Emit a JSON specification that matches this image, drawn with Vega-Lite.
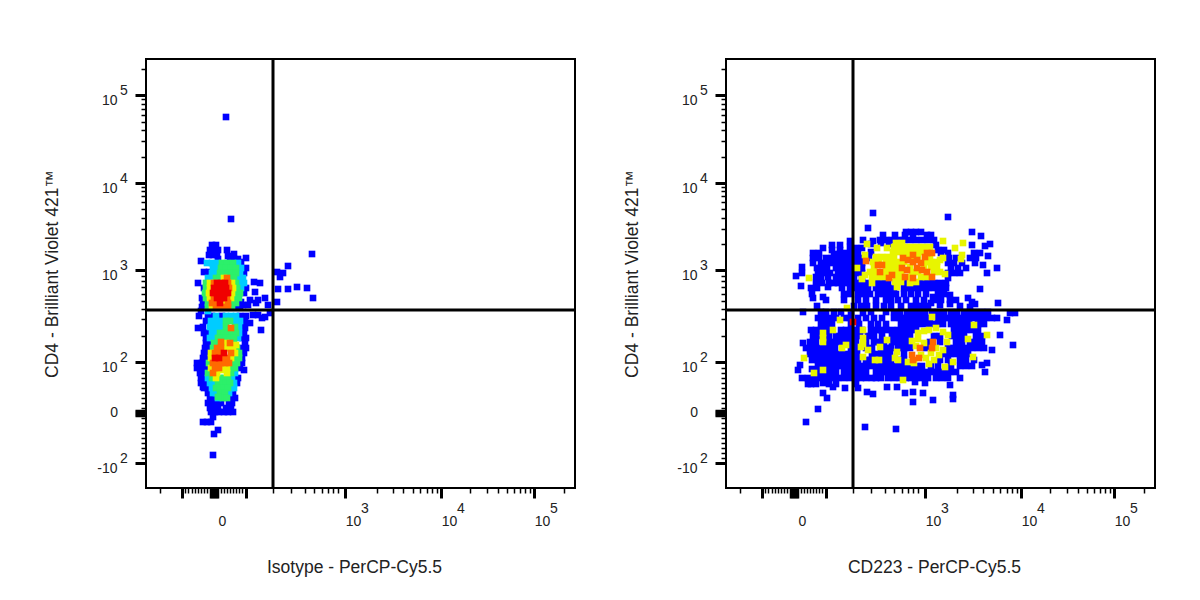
{
"$schema":"https://vega.github.io/schema/vega-lite/v6.json",
"description":"Two flow cytometry dot plots of CD4 against isotype and CD223, in display channel units.",
"padding":{"left":42,"top":56,"right":0,"bottom":0},
"spacing":44,
"background":"white",
"config":{"view":{"stroke":"black","strokeWidth":2},"axis":{"grid":false,"domain":false,"tickColor":"black","labelColor":"#222","titleColor":"#222","labelFont":"Liberation Sans","titleFont":"Liberation Sans","labelFontSize":14,"titleFontSize":17.5,"titleFontWeight":"normal"},"text":{"font":"Liberation Sans","fontSize":14,"color":"#222"}},
"datasets":{
"isotype":[
{"x":80,"y":371,"d":1},{"x":85,"y":269,"d":1},{"x":166,"y":234,"d":1},{"x":142,"y":222,"d":1},{"x":131,"y":216,"d":1},{"x":137,"y":215,"d":1},{"x":134,"y":211,"d":1},{"x":132,"y":199,"d":1},{"x":142,"y":199,"d":1},{"x":151,"y":201,"d":1},{"x":161,"y":200,"d":1},{"x":167,"y":190,"d":1},{"x":131,"y":186,"d":1},{"x":108,"y":206,"d":1},{"x":114,"y":205,"d":1},{"x":109,"y":196,"d":1},{"x":112,"y":188,"d":1},{"x":119,"y":190,"d":1},{"x":104,"y":188,"d":1},{"x":110,"y":185,"d":1},{"x":97,"y":183,"d":1},{"x":102,"y":183,"d":1},{"x":122,"y":183,"d":1},{"x":124,"y":175,"d":1},{"x":119,"y":171,"d":1},{"x":112,"y":173,"d":1},{"x":116,"y":170,"d":1},{"x":107,"y":173,"d":1},{"x":104,"y":165,"d":1},{"x":99,"y":160,"d":1},{"x":115,"y":158,"d":1},{"x":97,"y":168,"d":1},
{"x":66,"y":243,"d":1},{"x":70,"y":243,"d":1},{"x":64,"y":238,"d":1},{"x":68,"y":238,"d":1},{"x":72,"y":238,"d":1},{"x":81,"y":238,"d":1},{"x":88,"y":234,"d":1},{"x":63,"y":233,"d":1},{"x":67,"y":233,"d":1},{"x":71,"y":233,"d":1},{"x":82,"y":232,"d":1},{"x":72,"y":229,"d":1},{"x":84,"y":229,"d":1},{"x":88,"y":229,"d":1},{"x":92,"y":229,"d":1},{"x":55,"y":227,"d":1},{"x":100,"y":230,"d":1},{"x":95,"y":226,"d":1},{"x":58,"y":216,"d":1},{"x":63,"y":216,"d":1},{"x":100,"y":220,"d":1},{"x":98,"y":215,"d":1},{"x":52,"y":205,"d":1},{"x":58,"y":200,"d":1},{"x":98,"y":195,"d":1},{"x":100,"y":200,"d":1},{"x":56,"y":190,"d":1},{"x":57,"y":185,"d":1},{"x":95,"y":186,"d":1},{"x":56,"y":181,"d":1},{"x":90,"y":181,"d":1},{"x":94,"y":181,"d":1},{"x":55,"y":177,"d":1},
{"x":53,"y":172,"d":1},{"x":62,"y":172,"d":1},{"x":66,"y":172,"d":1},{"x":76,"y":172,"d":1},{"x":94,"y":172,"d":1},{"x":100,"y":172,"d":1},{"x":60,"y":167,"d":1},{"x":99,"y":166,"d":1},{"x":52,"y":160,"d":1},{"x":57,"y":161,"d":1},{"x":98,"y":161,"d":1},{"x":58,"y":155,"d":1},{"x":62,"y":155,"d":1},{"x":98,"y":155,"d":1},{"x":60,"y":150,"d":1},{"x":96,"y":150,"d":1},{"x":100,"y":150,"d":1},{"x":60,"y":145,"d":1},{"x":64,"y":145,"d":1},{"x":99,"y":145,"d":1},{"x":59,"y":140,"d":1},{"x":63,"y":140,"d":1},{"x":96,"y":140,"d":1},{"x":100,"y":140,"d":1},{"x":58,"y":135,"d":1},{"x":62,"y":135,"d":1},{"x":98,"y":135,"d":1},{"x":57,"y":130,"d":1},{"x":61,"y":130,"d":1},{"x":96,"y":130,"d":1},{"x":51,"y":125,"d":1},{"x":56,"y":125,"d":1},{"x":60,"y":125,"d":1},{"x":96,"y":125,"d":1},{"x":51,"y":120,"d":1},{"x":56,"y":120,"d":1},{"x":60,"y":120,"d":1},{"x":94,"y":120,"d":1},{"x":54,"y":115,"d":1},{"x":58,"y":115,"d":1},{"x":98,"y":118,"d":1},{"x":55,"y":110,"d":1},{"x":59,"y":110,"d":1},{"x":92,"y":110,"d":1},{"x":55,"y":105,"d":1},{"x":60,"y":105,"d":1},{"x":91,"y":105,"d":1},{"x":58,"y":100,"d":1},{"x":62,"y":100,"d":1},{"x":57,"y":101,"d":1},{"x":62,"y":95,"d":1},{"x":87,"y":95,"d":1},{"x":64,"y":90,"d":1},{"x":68,"y":90,"d":1},{"x":85,"y":90,"d":1},{"x":89,"y":90,"d":1},{"x":62,"y":85,"d":1},{"x":67,"y":85,"d":1},{"x":71,"y":85,"d":1},{"x":75,"y":85,"d":1},{"x":83,"y":85,"d":1},{"x":86,"y":85,"d":1},{"x":64,"y":80,"d":1},{"x":68,"y":80,"d":1},{"x":72,"y":80,"d":1},{"x":80,"y":80,"d":1},{"x":85,"y":80,"d":1},{"x":65,"y":76,"d":1},{"x":69,"y":76,"d":1},{"x":73,"y":76,"d":1},{"x":78,"y":76,"d":1},{"x":82,"y":76,"d":1},{"x":87,"y":76,"d":1},{"x":67,"y":71,"d":1},{"x":57,"y":66,"d":1},{"x":61,"y":66,"d":1},{"x":65,"y":66,"d":1},{"x":72,"y":58,"d":1},{"x":68,"y":54,"d":1},{"x":67,"y":33,"d":1},
{"x":61,"y":225,"d":2},{"x":66,"y":225,"d":2},{"x":71,"y":225,"d":2},{"x":92,"y":225,"d":2},{"x":67,"y":220,"d":2},{"x":71,"y":220,"d":2},{"x":95,"y":220,"d":2},{"x":66,"y":215,"d":2},{"x":70,"y":215,"d":2},{"x":94,"y":215,"d":2},{"x":62,"y":210,"d":2},{"x":66,"y":210,"d":2},{"x":92,"y":210,"d":2},{"x":97,"y":210,"d":2},{"x":94,"y":205,"d":2},{"x":98,"y":205,"d":2},{"x":95,"y":200,"d":2},{"x":62,"y":177,"d":2},{"x":70,"y":172,"d":2},{"x":80,"y":172,"d":2},{"x":85,"y":172,"d":2},{"x":90,"y":172,"d":2},{"x":65,"y":167,"d":2},{"x":70,"y":167,"d":2},{"x":75,"y":167,"d":2},{"x":90,"y":167,"d":2},{"x":94,"y":167,"d":2},{"x":64,"y":161,"d":2},{"x":68,"y":161,"d":2},{"x":72,"y":161,"d":2},{"x":76,"y":161,"d":2},{"x":93,"y":161,"d":2},{"x":66,"y":155,"d":2},{"x":70,"y":155,"d":2},{"x":93,"y":155,"d":2},{"x":64,"y":150,"d":2},{"x":68,"y":150,"d":2},{"x":92,"y":150,"d":2},{"x":89,"y":115,"d":2},{"x":62,"y":110,"d":2},{"x":86,"y":110,"d":2},{"x":64,"y":105,"d":2},{"x":68,"y":105,"d":2},{"x":88,"y":105,"d":2},{"x":66,"y":100,"d":2},{"x":85,"y":100,"d":2},{"x":88,"y":100,"d":2},{"x":67,"y":95,"d":2},{"x":70,"y":95,"d":2},{"x":83,"y":95,"d":2},{"x":72,"y":90,"d":2},
{"x":76,"y":225,"d":3},{"x":81,"y":225,"d":3},{"x":87,"y":225,"d":3},{"x":75,"y":220,"d":3},{"x":80,"y":220,"d":3},{"x":85,"y":220,"d":3},{"x":90,"y":220,"d":3},{"x":74,"y":215,"d":3},{"x":78,"y":215,"d":3},{"x":82,"y":215,"d":3},{"x":86,"y":215,"d":3},{"x":90,"y":215,"d":3},{"x":70,"y":210,"d":3},{"x":74,"y":210,"d":3},{"x":84,"y":210,"d":3},{"x":88,"y":210,"d":3},{"x":60,"y":205,"d":3},{"x":90,"y":205,"d":3},{"x":60,"y":200,"d":3},{"x":91,"y":200,"d":3},{"x":59,"y":195,"d":3},{"x":90,"y":195,"d":3},{"x":94,"y":195,"d":3},{"x":60,"y":190,"d":3},{"x":89,"y":190,"d":3},{"x":93,"y":190,"d":3},{"x":62,"y":185,"d":3},{"x":86,"y":185,"d":3},{"x":90,"y":185,"d":3},{"x":62,"y":181,"d":3},{"x":86,"y":181,"d":3},{"x":84,"y":167,"d":3},{"x":80,"y":167,"d":3},{"x":80,"y":161,"d":3},{"x":89,"y":161,"d":3},{"x":74,"y":155,"d":3},{"x":78,"y":155,"d":3},{"x":82,"y":155,"d":3},{"x":86,"y":155,"d":3},{"x":90,"y":155,"d":3},{"x":72,"y":150,"d":3},{"x":76,"y":150,"d":3},{"x":80,"y":150,"d":3},{"x":84,"y":150,"d":3},{"x":88,"y":150,"d":3},{"x":68,"y":145,"d":3},{"x":72,"y":145,"d":3},{"x":88,"y":145,"d":3},{"x":67,"y":140,"d":3},{"x":91,"y":140,"d":3},{"x":93,"y":135,"d":3},{"x":89,"y":130,"d":3},{"x":93,"y":130,"d":3},{"x":63,"y":125,"d":3},{"x":87,"y":125,"d":3},{"x":91,"y":125,"d":3},{"x":85,"y":120,"d":3},{"x":89,"y":120,"d":3},{"x":62,"y":115,"d":3},{"x":85,"y":115,"d":3},{"x":66,"y":110,"d":3},{"x":74,"y":110,"d":3},{"x":78,"y":110,"d":3},{"x":82,"y":110,"d":3},{"x":72,"y":105,"d":3},{"x":76,"y":105,"d":3},{"x":80,"y":105,"d":3},{"x":84,"y":105,"d":3},{"x":70,"y":100,"d":3},{"x":74,"y":100,"d":3},{"x":78,"y":100,"d":3},{"x":82,"y":100,"d":3},{"x":74,"y":95,"d":3},{"x":79,"y":95,"d":3},{"x":77,"y":90,"d":3},{"x":81,"y":90,"d":3},{"x":72,"y":91,"d":3},
{"x":78,"y":210,"d":4},{"x":64,"y":205,"d":4},{"x":86,"y":205,"d":4},{"x":64,"y":200,"d":4},{"x":87,"y":200,"d":4},{"x":63,"y":195,"d":4},{"x":86,"y":195,"d":4},{"x":64,"y":190,"d":4},{"x":85,"y":190,"d":4},{"x":78,"y":185,"d":4},{"x":66,"y":181,"d":4},{"x":80,"y":145,"d":4},{"x":90,"y":143,"d":4},{"x":79,"y":140,"d":4},{"x":83,"y":140,"d":4},{"x":87,"y":140,"d":4},{"x":65,"y":135,"d":4},{"x":89,"y":135,"d":4},{"x":65,"y":130,"d":4},{"x":85,"y":130,"d":4},{"x":65,"y":120,"d":4},{"x":77,"y":120,"d":4},{"x":81,"y":120,"d":4},{"x":71,"y":115,"d":4},{"x":75,"y":118,"d":4},{"x":81,"y":115,"d":4},{"x":70,"y":110,"d":4},
{"x":81,"y":210,"d":5},{"x":68,"y":205,"d":5},{"x":82,"y":205,"d":5},{"x":83,"y":200,"d":5},{"x":68,"y":190,"d":5},{"x":81,"y":190,"d":5},{"x":66,"y":185,"d":5},{"x":70,"y":185,"d":5},{"x":82,"y":185,"d":5},{"x":70,"y":181,"d":5},{"x":74,"y":181,"d":5},{"x":79,"y":181,"d":5},{"x":82,"y":181,"d":5},{"x":85,"y":160,"d":5},{"x":75,"y":146,"d":5},{"x":84,"y":145,"d":5},{"x":71,"y":140,"d":5},{"x":75,"y":140,"d":5},{"x":69,"y":135,"d":5},{"x":73,"y":135,"d":5},{"x":85,"y":135,"d":5},{"x":77,"y":130,"d":5},{"x":81,"y":130,"d":5},{"x":67,"y":125,"d":5},{"x":71,"y":125,"d":5},{"x":75,"y":125,"d":5},{"x":79,"y":125,"d":5},{"x":83,"y":125,"d":5},{"x":69,"y":120,"d":5},{"x":73,"y":120,"d":5},{"x":67,"y":115,"d":5},
{"x":71,"y":205,"d":6},{"x":75,"y":205,"d":6},{"x":79,"y":205,"d":6},{"x":68,"y":200,"d":6},{"x":72,"y":200,"d":6},{"x":76,"y":200,"d":6},{"x":80,"y":200,"d":6},{"x":67,"y":195,"d":6},{"x":71,"y":195,"d":6},{"x":75,"y":195,"d":6},{"x":79,"y":195,"d":6},{"x":82,"y":195,"d":6},{"x":71,"y":190,"d":6},{"x":75,"y":190,"d":6},{"x":78,"y":190,"d":6},{"x":74,"y":185,"d":6},{"x":78,"y":135,"d":6},{"x":69,"y":130,"d":6},{"x":73,"y":130,"d":6}
],
"cd223":[
{"x":147,"y":275,"d":1},{"x":222,"y":271,"d":1},{"x":142,"y":260,"d":1},{"x":180,"y":256,"d":1},{"x":185,"y":256,"d":1},{"x":190,"y":256,"d":1},{"x":195,"y":256,"d":1},{"x":246,"y":256,"d":1},{"x":157,"y":253,"d":1},{"x":169,"y":253,"d":1},{"x":179,"y":253,"d":1},{"x":187,"y":253,"d":1},{"x":201,"y":253,"d":1},{"x":205,"y":253,"d":1},{"x":255,"y":252,"d":1},{"x":124,"y":247,"d":1},{"x":137,"y":248,"d":1},{"x":147,"y":247,"d":1},{"x":154,"y":248,"d":1},{"x":160,"y":248,"d":1},{"x":166,"y":248,"d":1},{"x":172,"y":248,"d":1},{"x":178,"y":248,"d":1},{"x":184,"y":248,"d":1},{"x":190,"y":248,"d":1},{"x":196,"y":248,"d":1},{"x":202,"y":248,"d":1},{"x":208,"y":248,"d":1},{"x":106,"y":243,"d":1},{"x":114,"y":243,"d":1},{"x":124,"y":241,"d":1},{"x":246,"y":243,"d":1},{"x":264,"y":244,"d":1},{"x":259,"y":242,"d":1},
{"x":97,"y":240,"d":1},{"x":106,"y":238,"d":1},{"x":114,"y":238,"d":1},{"x":130,"y":240,"d":1},{"x":136,"y":240,"d":1},{"x":145,"y":244,"d":1},{"x":155,"y":245,"d":1},{"x":163,"y":244,"d":1},{"x":210,"y":243,"d":1},{"x":212,"y":238,"d":1},{"x":218,"y":238,"d":1},{"x":87,"y":235,"d":1},{"x":93,"y":235,"d":1},{"x":108,"y":234,"d":1},{"x":114,"y":234,"d":1},{"x":120,"y":235,"d":1},{"x":126,"y":235,"d":1},{"x":132,"y":235,"d":1},{"x":145,"y":236,"d":1},{"x":215,"y":235,"d":1},{"x":222,"y":235,"d":1},{"x":248,"y":235,"d":1},{"x":254,"y":235,"d":1},{"x":262,"y":232,"d":1},{"x":87,"y":230,"d":1},{"x":93,"y":230,"d":1},{"x":100,"y":230,"d":1},{"x":106,"y":230,"d":1},{"x":112,"y":230,"d":1},{"x":118,"y":230,"d":1},{"x":124,"y":230,"d":1},{"x":130,"y":230,"d":1},{"x":136,"y":230,"d":1},{"x":143,"y":230,"d":1},{"x":223,"y":230,"d":1},{"x":230,"y":230,"d":1},{"x":244,"y":230,"d":1},{"x":250,"y":230,"d":1},{"x":87,"y":225,"d":1},{"x":95,"y":225,"d":1},{"x":100,"y":225,"d":1},{"x":106,"y":225,"d":1},{"x":112,"y":225,"d":1},{"x":118,"y":225,"d":1},{"x":124,"y":225,"d":1},{"x":130,"y":225,"d":1},{"x":136,"y":225,"d":1},{"x":222,"y":225,"d":1},{"x":228,"y":225,"d":1},{"x":236,"y":225,"d":1},{"x":249,"y":225,"d":1},{"x":76,"y":221,"d":1},{"x":91,"y":220,"d":1},{"x":95,"y":220,"d":1},{"x":101,"y":220,"d":1},{"x":110,"y":220,"d":1},{"x":116,"y":220,"d":1},{"x":122,"y":220,"d":1},{"x":128,"y":220,"d":1},{"x":136,"y":220,"d":1},{"x":225,"y":220,"d":1},{"x":232,"y":220,"d":1},{"x":240,"y":220,"d":1},{"x":257,"y":223,"d":1},{"x":76,"y":215,"d":1},{"x":92,"y":215,"d":1},{"x":98,"y":215,"d":1},{"x":104,"y":215,"d":1},{"x":112,"y":215,"d":1},{"x":118,"y":215,"d":1},{"x":124,"y":215,"d":1},{"x":130,"y":215,"d":1},{"x":136,"y":215,"d":1},{"x":222,"y":215,"d":1},{"x":228,"y":215,"d":1},{"x":234,"y":215,"d":1},{"x":271,"y":220,"d":1},{"x":70,"y":212,"d":1},{"x":90,"y":211,"d":1},{"x":95,"y":211,"d":1},{"x":102,"y":211,"d":1},{"x":110,"y":211,"d":1},{"x":116,"y":211,"d":1},{"x":122,"y":211,"d":1},{"x":128,"y":211,"d":1},{"x":136,"y":210,"d":1},{"x":222,"y":210,"d":1},{"x":261,"y":215,"d":1},{"x":75,"y":202,"d":1},{"x":90,"y":205,"d":1},{"x":96,"y":205,"d":1},{"x":103,"y":205,"d":1},{"x":108,"y":205,"d":1},{"x":112,"y":205,"d":1},{"x":118,"y":205,"d":1},{"x":124,"y":205,"d":1},{"x":130,"y":205,"d":1},{"x":136,"y":205,"d":1},{"x":142,"y":205,"d":1},{"x":150,"y":205,"d":1},{"x":156,"y":205,"d":1},{"x":162,"y":205,"d":1},{"x":180,"y":205,"d":1},{"x":196,"y":205,"d":1},{"x":202,"y":205,"d":1},{"x":208,"y":205,"d":1},{"x":214,"y":205,"d":1},{"x":220,"y":205,"d":1},
{"x":85,"y":200,"d":1},{"x":91,"y":200,"d":1},{"x":102,"y":201,"d":1},{"x":116,"y":200,"d":1},{"x":124,"y":200,"d":1},{"x":130,"y":200,"d":1},{"x":136,"y":200,"d":1},{"x":142,"y":200,"d":1},{"x":150,"y":200,"d":1},{"x":156,"y":200,"d":1},{"x":162,"y":200,"d":1},{"x":168,"y":200,"d":1},{"x":178,"y":200,"d":1},{"x":184,"y":200,"d":1},{"x":190,"y":200,"d":1},{"x":196,"y":200,"d":1},{"x":202,"y":200,"d":1},{"x":208,"y":200,"d":1},{"x":214,"y":200,"d":1},{"x":220,"y":200,"d":1},{"x":254,"y":199,"d":1},{"x":86,"y":194,"d":1},{"x":87,"y":190,"d":1},{"x":97,"y":191,"d":1},{"x":118,"y":194,"d":1},{"x":124,"y":194,"d":1},{"x":132,"y":194,"d":1},{"x":138,"y":194,"d":1},{"x":144,"y":194,"d":1},{"x":152,"y":194,"d":1},{"x":158,"y":194,"d":1},{"x":164,"y":194,"d":1},{"x":170,"y":194,"d":1},{"x":178,"y":194,"d":1},{"x":185,"y":194,"d":1},{"x":192,"y":194,"d":1},{"x":200,"y":194,"d":1},{"x":207,"y":191,"d":1},{"x":212,"y":194,"d":1},{"x":218,"y":194,"d":1},{"x":224,"y":193,"d":1},{"x":100,"y":188,"d":1},{"x":91,"y":182,"d":1},{"x":118,"y":188,"d":1},{"x":132,"y":188,"d":1},{"x":140,"y":188,"d":1},{"x":150,"y":188,"d":1},{"x":160,"y":188,"d":1},{"x":165,"y":188,"d":1},{"x":172,"y":188,"d":1},{"x":180,"y":188,"d":1},{"x":190,"y":188,"d":1},{"x":198,"y":188,"d":1},{"x":205,"y":185,"d":1},{"x":210,"y":188,"d":1},{"x":215,"y":188,"d":1},{"x":224,"y":188,"d":1},{"x":230,"y":188,"d":1},{"x":242,"y":190,"d":1},{"x":246,"y":186,"d":1},{"x":272,"y":185,"d":1},{"x":128,"y":182,"d":1},{"x":135,"y":182,"d":1},{"x":141,"y":182,"d":1},{"x":150,"y":182,"d":1},{"x":158,"y":182,"d":1},{"x":165,"y":182,"d":1},{"x":175,"y":182,"d":1},{"x":185,"y":182,"d":1},{"x":190,"y":182,"d":1},{"x":196,"y":182,"d":1},{"x":202,"y":182,"d":1},{"x":214,"y":183,"d":1},{"x":224,"y":184,"d":1},{"x":234,"y":182,"d":1},{"x":249,"y":184,"d":1},{"x":244,"y":181,"d":1},
{"x":77,"y":176,"d":1},{"x":95,"y":176,"d":1},{"x":100,"y":176,"d":1},{"x":108,"y":176,"d":1},{"x":115,"y":176,"d":1},{"x":125,"y":176,"d":1},{"x":137,"y":175,"d":1},{"x":145,"y":176,"d":1},{"x":160,"y":176,"d":1},{"x":168,"y":176,"d":1},{"x":174,"y":176,"d":1},{"x":181,"y":174,"d":1},{"x":187,"y":176,"d":1},{"x":193,"y":176,"d":1},{"x":199,"y":176,"d":1},{"x":206,"y":176,"d":1},{"x":212,"y":176,"d":1},{"x":218,"y":176,"d":1},{"x":225,"y":176,"d":1},{"x":231,"y":176,"d":1},{"x":238,"y":176,"d":1},{"x":244,"y":176,"d":1},{"x":250,"y":176,"d":1},{"x":256,"y":176,"d":1},{"x":262,"y":176,"d":1},{"x":284,"y":175,"d":1},{"x":289,"y":175,"d":1},{"x":281,"y":168,"d":1},
{"x":92,"y":170,"d":1},{"x":98,"y":170,"d":1},{"x":104,"y":170,"d":1},{"x":110,"y":170,"d":1},{"x":118,"y":170,"d":1},{"x":124,"y":170,"d":1},{"x":132,"y":170,"d":1},{"x":140,"y":170,"d":1},{"x":148,"y":170,"d":1},{"x":156,"y":170,"d":1},{"x":168,"y":170,"d":1},{"x":174,"y":170,"d":1},{"x":180,"y":170,"d":1},{"x":186,"y":170,"d":1},{"x":192,"y":170,"d":1},{"x":198,"y":170,"d":1},{"x":204,"y":170,"d":1},{"x":212,"y":170,"d":1},{"x":218,"y":170,"d":1},{"x":224,"y":170,"d":1},{"x":230,"y":170,"d":1},{"x":236,"y":170,"d":1},{"x":242,"y":170,"d":1},{"x":248,"y":170,"d":1},{"x":254,"y":170,"d":1},{"x":260,"y":170,"d":1},{"x":266,"y":170,"d":1},{"x":271,"y":170,"d":1},{"x":95,"y":164,"d":1},{"x":100,"y":164,"d":1},{"x":106,"y":164,"d":1},{"x":125,"y":164,"d":1},{"x":133,"y":164,"d":1},{"x":145,"y":164,"d":1},{"x":152,"y":164,"d":1},{"x":160,"y":164,"d":1},{"x":175,"y":164,"d":1},{"x":181,"y":164,"d":1},{"x":187,"y":164,"d":1},{"x":193,"y":164,"d":1},{"x":199,"y":164,"d":1},{"x":205,"y":164,"d":1},{"x":211,"y":164,"d":1},{"x":217,"y":164,"d":1},{"x":225,"y":164,"d":1},{"x":231,"y":164,"d":1},{"x":237,"y":164,"d":1},{"x":243,"y":164,"d":1},{"x":252,"y":164,"d":1},{"x":258,"y":164,"d":1},{"x":85,"y":158,"d":1},{"x":90,"y":158,"d":1},{"x":95,"y":158,"d":1},{"x":100,"y":158,"d":1},{"x":105,"y":158,"d":1},{"x":115,"y":158,"d":1},{"x":120,"y":158,"d":1},{"x":125,"y":158,"d":1},{"x":130,"y":158,"d":1},{"x":136,"y":158,"d":1},{"x":145,"y":158,"d":1},{"x":150,"y":158,"d":1},{"x":155,"y":158,"d":1},{"x":160,"y":158,"d":1},{"x":166,"y":158,"d":1},{"x":172,"y":158,"d":1},{"x":178,"y":158,"d":1},{"x":184,"y":158,"d":1},{"x":190,"y":158,"d":1},{"x":228,"y":158,"d":1},{"x":234,"y":158,"d":1},{"x":240,"y":158,"d":1},{"x":246,"y":158,"d":1},{"x":252,"y":158,"d":1},{"x":87,"y":152,"d":1},{"x":92,"y":152,"d":1},{"x":98,"y":152,"d":1},{"x":103,"y":152,"d":1},{"x":110,"y":152,"d":1},{"x":116,"y":152,"d":1},{"x":122,"y":152,"d":1},{"x":128,"y":152,"d":1},{"x":134,"y":152,"d":1},{"x":142,"y":152,"d":1},{"x":148,"y":152,"d":1},{"x":156,"y":152,"d":1},{"x":166,"y":152,"d":1},{"x":172,"y":152,"d":1},{"x":178,"y":152,"d":1},{"x":184,"y":152,"d":1},{"x":208,"y":152,"d":1},{"x":214,"y":152,"d":1},{"x":226,"y":152,"d":1},{"x":232,"y":152,"d":1},{"x":238,"y":152,"d":1},{"x":250,"y":152,"d":1},{"x":256,"y":152,"d":1},{"x":274,"y":153,"d":1},{"x":77,"y":145,"d":1},{"x":84,"y":146,"d":1},{"x":90,"y":146,"d":1},{"x":103,"y":146,"d":1},{"x":109,"y":146,"d":1},{"x":115,"y":146,"d":1},{"x":120,"y":146,"d":1},{"x":126,"y":146,"d":1},{"x":130,"y":146,"d":1},{"x":140,"y":146,"d":1},{"x":148,"y":146,"d":1},{"x":152,"y":146,"d":1},{"x":158,"y":146,"d":1},{"x":166,"y":146,"d":1},{"x":172,"y":146,"d":1},{"x":178,"y":146,"d":1},{"x":184,"y":146,"d":1},{"x":204,"y":146,"d":1},{"x":214,"y":146,"d":1},{"x":230,"y":146,"d":1},{"x":236,"y":146,"d":1},{"x":244,"y":146,"d":1},{"x":250,"y":146,"d":1},{"x":256,"y":146,"d":1},{"x":80,"y":140,"d":1},{"x":86,"y":140,"d":1},{"x":92,"y":140,"d":1},{"x":98,"y":140,"d":1},{"x":103,"y":140,"d":1},{"x":109,"y":140,"d":1},{"x":125,"y":140,"d":1},{"x":131,"y":140,"d":1},{"x":140,"y":140,"d":1},{"x":146,"y":140,"d":1},{"x":155,"y":140,"d":1},{"x":160,"y":140,"d":1},{"x":165,"y":140,"d":1},{"x":172,"y":140,"d":1},{"x":178,"y":140,"d":1},{"x":184,"y":140,"d":1},{"x":200,"y":140,"d":1},{"x":222,"y":140,"d":1},{"x":228,"y":140,"d":1},{"x":234,"y":140,"d":1},{"x":240,"y":140,"d":1},{"x":246,"y":140,"d":1},{"x":252,"y":140,"d":1},{"x":258,"y":140,"d":1},{"x":287,"y":143,"d":1},{"x":266,"y":138,"d":1},{"x":84,"y":134,"d":1},{"x":90,"y":134,"d":1},{"x":96,"y":134,"d":1},{"x":102,"y":134,"d":1},{"x":108,"y":134,"d":1},{"x":114,"y":134,"d":1},{"x":120,"y":134,"d":1},{"x":126,"y":134,"d":1},{"x":131,"y":134,"d":1},{"x":146,"y":134,"d":1},{"x":152,"y":134,"d":1},{"x":158,"y":134,"d":1},{"x":164,"y":134,"d":1},{"x":178,"y":134,"d":1},{"x":218,"y":134,"d":1},{"x":224,"y":134,"d":1},{"x":230,"y":134,"d":1},{"x":236,"y":134,"d":1},{"x":242,"y":134,"d":1},{"x":86,"y":128,"d":1},{"x":92,"y":128,"d":1},{"x":98,"y":128,"d":1},{"x":104,"y":128,"d":1},{"x":110,"y":128,"d":1},{"x":116,"y":128,"d":1},{"x":122,"y":128,"d":1},{"x":126,"y":128,"d":1},{"x":132,"y":128,"d":1},{"x":140,"y":128,"d":1},{"x":144,"y":128,"d":1},{"x":156,"y":128,"d":1},{"x":160,"y":128,"d":1},{"x":165,"y":128,"d":1},{"x":175,"y":128,"d":1},{"x":178,"y":128,"d":1},{"x":214,"y":128,"d":1},{"x":222,"y":128,"d":1},{"x":234,"y":128,"d":1},{"x":240,"y":128,"d":1},{"x":248,"y":128,"d":1},{"x":256,"y":123,"d":1},{"x":261,"y":125,"d":1},{"x":74,"y":123,"d":1},{"x":72,"y":118,"d":1},{"x":92,"y":122,"d":1},{"x":98,"y":122,"d":1},{"x":104,"y":122,"d":1},{"x":110,"y":122,"d":1},{"x":116,"y":122,"d":1},{"x":122,"y":122,"d":1},{"x":128,"y":122,"d":1},{"x":134,"y":122,"d":1},{"x":140,"y":122,"d":1},{"x":146,"y":122,"d":1},{"x":152,"y":122,"d":1},{"x":158,"y":122,"d":1},{"x":164,"y":122,"d":1},{"x":170,"y":122,"d":1},{"x":175,"y":122,"d":1},{"x":180,"y":122,"d":1},{"x":185,"y":122,"d":1},{"x":190,"y":122,"d":1},{"x":196,"y":122,"d":1},{"x":205,"y":122,"d":1},{"x":212,"y":122,"d":1},{"x":225,"y":122,"d":1},{"x":234,"y":122,"d":1},{"x":240,"y":122,"d":1},{"x":246,"y":122,"d":1},{"x":86,"y":119,"d":1},{"x":92,"y":116,"d":1},{"x":98,"y":116,"d":1},{"x":104,"y":116,"d":1},{"x":110,"y":116,"d":1},{"x":118,"y":116,"d":1},{"x":124,"y":116,"d":1},{"x":130,"y":116,"d":1},{"x":134,"y":116,"d":1},{"x":140,"y":116,"d":1},{"x":150,"y":116,"d":1},{"x":155,"y":116,"d":1},{"x":160,"y":116,"d":1},{"x":165,"y":116,"d":1},{"x":170,"y":116,"d":1},{"x":176,"y":116,"d":1},{"x":182,"y":116,"d":1},{"x":188,"y":116,"d":1},{"x":194,"y":116,"d":1},{"x":200,"y":116,"d":1},{"x":206,"y":116,"d":1},{"x":212,"y":116,"d":1},{"x":218,"y":116,"d":1},{"x":224,"y":116,"d":1},{"x":230,"y":116,"d":1},{"x":259,"y":116,"d":1},{"x":76,"y":110,"d":1},{"x":82,"y":110,"d":1},{"x":88,"y":110,"d":1},{"x":94,"y":110,"d":1},{"x":100,"y":110,"d":1},{"x":106,"y":110,"d":1},{"x":112,"y":110,"d":1},{"x":118,"y":110,"d":1},{"x":124,"y":110,"d":1},{"x":130,"y":110,"d":1},{"x":135,"y":110,"d":1},{"x":140,"y":110,"d":1},{"x":146,"y":110,"d":1},{"x":150,"y":110,"d":1},{"x":155,"y":110,"d":1},{"x":162,"y":110,"d":1},{"x":168,"y":110,"d":1},{"x":174,"y":110,"d":1},{"x":180,"y":110,"d":1},{"x":185,"y":110,"d":1},{"x":190,"y":110,"d":1},{"x":196,"y":110,"d":1},{"x":202,"y":110,"d":1},{"x":210,"y":110,"d":1},{"x":216,"y":110,"d":1},{"x":222,"y":110,"d":1},{"x":234,"y":110,"d":1},{"x":82,"y":104,"d":1},{"x":85,"y":104,"d":1},{"x":90,"y":104,"d":1},{"x":97,"y":105,"d":1},{"x":103,"y":104,"d":1},{"x":110,"y":104,"d":1},{"x":130,"y":104,"d":1},{"x":119,"y":100,"d":1},{"x":132,"y":100,"d":1},{"x":161,"y":101,"d":1},{"x":171,"y":101,"d":1},{"x":189,"y":106,"d":1},{"x":199,"y":105,"d":1},{"x":224,"y":103,"d":1},{"x":97,"y":95,"d":1},{"x":101,"y":90,"d":1},{"x":107,"y":101,"d":1},{"x":141,"y":96,"d":1},{"x":147,"y":94,"d":1},{"x":179,"y":95,"d":1},{"x":187,"y":96,"d":1},{"x":197,"y":95,"d":1},{"x":227,"y":93,"d":1},{"x":227,"y":89,"d":1},{"x":187,"y":86,"d":1},{"x":207,"y":88,"d":1},{"x":92,"y":79,"d":1},{"x":80,"y":66,"d":1},{"x":139,"y":61,"d":1},{"x":170,"y":59,"d":1},
{"x":141,"y":244,"d":4},{"x":217,"y":247,"d":4},{"x":151,"y":240,"d":4},{"x":161,"y":240,"d":4},{"x":229,"y":240,"d":4},{"x":237,"y":245,"d":4},{"x":170,"y":245,"d":4},{"x":176,"y":245,"d":4},{"x":168,"y":241,"d":4},{"x":174,"y":241,"d":4},{"x":180,"y":241,"d":4},{"x":186,"y":241,"d":4},{"x":192,"y":241,"d":4},{"x":198,"y":241,"d":4},{"x":204,"y":241,"d":4},{"x":139,"y":233,"d":4},{"x":167,"y":236,"d":4},{"x":173,"y":236,"d":4},{"x":179,"y":236,"d":4},{"x":185,"y":236,"d":4},{"x":191,"y":236,"d":4},{"x":197,"y":236,"d":4},{"x":217,"y":230,"d":4},{"x":214,"y":228,"d":4},{"x":236,"y":233,"d":4},{"x":235,"y":229,"d":4},{"x":150,"y":231,"d":4},{"x":156,"y":231,"d":4},{"x":162,"y":231,"d":4},{"x":168,"y":231,"d":4},{"x":180,"y":231,"d":4},{"x":186,"y":231,"d":4},{"x":192,"y":231,"d":4},{"x":204,"y":231,"d":4},{"x":147,"y":226,"d":4},{"x":153,"y":226,"d":4},{"x":160,"y":226,"d":4},{"x":166,"y":226,"d":4},{"x":172,"y":226,"d":4},{"x":178,"y":226,"d":4},{"x":200,"y":226,"d":4},{"x":205,"y":226,"d":4},{"x":211,"y":226,"d":4},{"x":148,"y":221,"d":4},{"x":160,"y":221,"d":4},{"x":166,"y":221,"d":4},{"x":172,"y":221,"d":4},{"x":184,"y":221,"d":4},{"x":198,"y":221,"d":4},{"x":205,"y":221,"d":4},{"x":211,"y":221,"d":4},{"x":219,"y":214,"d":4},{"x":144,"y":216,"d":4},{"x":148,"y":216,"d":4},{"x":160,"y":216,"d":4},{"x":164,"y":216,"d":4},{"x":170,"y":216,"d":4},{"x":175,"y":216,"d":4},{"x":186,"y":216,"d":4},{"x":192,"y":216,"d":4},{"x":208,"y":216,"d":4},{"x":214,"y":216,"d":4},{"x":131,"y":220,"d":4},{"x":83,"y":210,"d":4},{"x":139,"y":213,"d":4},{"x":146,"y":211,"d":4},{"x":152,"y":211,"d":4},{"x":158,"y":211,"d":4},{"x":170,"y":211,"d":4},{"x":176,"y":211,"d":4},{"x":185,"y":211,"d":4},{"x":195,"y":211,"d":4},{"x":200,"y":211,"d":4},{"x":136,"y":209,"d":4},{"x":146,"y":205,"d":4},{"x":169,"y":206,"d":4},{"x":175,"y":206,"d":4},{"x":171,"y":201,"d":4},{"x":184,"y":205,"d":4},{"x":190,"y":206,"d":4},{"x":121,"y":180,"d":4},{"x":206,"y":171,"d":4},{"x":114,"y":168,"d":4},{"x":248,"y":163,"d":4},{"x":107,"y":158,"d":4},{"x":137,"y":158,"d":4},{"x":97,"y":155,"d":4},{"x":97,"y":150,"d":4},{"x":97,"y":146,"d":4},{"x":120,"y":143,"d":4},{"x":116,"y":140,"d":4},{"x":137,"y":150,"d":4},{"x":137,"y":144,"d":4},{"x":142,"y":138,"d":4},{"x":135,"y":141,"d":4},{"x":154,"y":141,"d":4},{"x":161,"y":148,"d":4},{"x":137,"y":131,"d":4},{"x":149,"y":128,"d":4},{"x":153,"y":128,"d":4},{"x":171,"y":136,"d":4},{"x":169,"y":130,"d":4},{"x":172,"y":128,"d":4},{"x":78,"y":130,"d":4},{"x":97,"y":118,"d":4},{"x":88,"y":115,"d":4},{"x":177,"y":108,"d":4},{"x":192,"y":155,"d":4},{"x":198,"y":157,"d":4},{"x":186,"y":147,"d":4},{"x":190,"y":142,"d":4},{"x":198,"y":145,"d":4},{"x":192,"y":149,"d":4},{"x":203,"y":158,"d":4},{"x":210,"y":160,"d":4},{"x":217,"y":156,"d":4},{"x":222,"y":153,"d":4},{"x":221,"y":146,"d":4},{"x":217,"y":138,"d":4},{"x":213,"y":133,"d":4},{"x":208,"y":128,"d":4},{"x":203,"y":124,"d":4},{"x":182,"y":126,"d":4},{"x":188,"y":125,"d":4},{"x":195,"y":133,"d":4},{"x":205,"y":135,"d":4},{"x":210,"y":140,"d":4},{"x":200,"y":130,"d":4},{"x":227,"y":126,"d":4},{"x":219,"y":121,"d":4},{"x":247,"y":131,"d":4},{"x":242,"y":149,"d":4},{"x":261,"y":153,"d":4},
{"x":206,"y":235,"d":5},{"x":201,"y":235,"d":5},{"x":187,"y":233,"d":5},{"x":177,"y":230,"d":5},{"x":182,"y":228,"d":5},{"x":191,"y":228,"d":5},{"x":199,"y":231,"d":5},{"x":140,"y":227,"d":5},{"x":152,"y":223,"d":5},{"x":156,"y":223,"d":5},{"x":154,"y":216,"d":5},{"x":176,"y":220,"d":5},{"x":181,"y":218,"d":5},{"x":191,"y":220,"d":5},{"x":196,"y":218,"d":5},{"x":201,"y":216,"d":5},{"x":206,"y":211,"d":5},{"x":166,"y":213,"d":5},{"x":163,"y":210,"d":5},{"x":179,"y":211,"d":5},{"x":187,"y":210,"d":5},{"x":195,"y":225,"d":5},{"x":187,"y":226,"d":5},{"x":207,"y":146,"d":5},{"x":206,"y":140,"d":5},{"x":194,"y":140,"d":5},{"x":186,"y":133,"d":5},{"x":187,"y":128,"d":5},{"x":193,"y":130,"d":5},
{"x":127,"y":166,"d":6}
],
"xExp":[{"v":199,"t":"3"},{"v":295,"t":"4"},{"v":388,"t":"5"}],
"yExp":[{"v":393,"t":"5"},{"v":305,"t":"4"},{"v":218,"t":"3"},{"v":126,"t":"2"},{"v":25,"t":"2"}]
},
"hconcat":[
{"width":429,"height":429,"layer":[
{"data":{"name":"isotype"},"mark":{"type":"square","filled":true,"size":44,"opacity":1},
"encoding":{
"x":{"field":"x","type":"quantitative","scale":{"domain":[0,429],"nice":false,"zero":false},
"axis":{"title":"Isotype - PerCP-Cy5.5","titleX":208,"titlePadding":30,"labelPadding":16,"labelOffset":8,"labelFlush":false,"labelOverlap":false,"tickCount":1000,
"values":[14,36,39,42,46,49,52,55,58,61,64,65,66,67,68,69,70,71,72,75,78,81,84,87,90,93,96,100,127,145,159,168,176,182,187,192,199,231,247,257,267,274,281,286,291,295,324,341,352,361,368,374,379,384,388,418],
"labelExpr":"datum.value==68?'0':(datum.value==199||datum.value==295||datum.value==388)?'10':''",
"tickSize":{"condition":{"test":"datum.value==36||datum.value==100||datum.value==199||datum.value==295||datum.value==388||(datum.value>=64&&datum.value<=72)","value":10},"value":5},
"tickWidth":{"condition":{"test":"datum.value==36||datum.value==100||datum.value==199||datum.value==295||datum.value==388","value":3},"value":1.5}}},
"y":{"field":"y","type":"quantitative","scale":{"domain":[0,429],"nice":false,"zero":false},
"axis":{"title":"CD4 - Brilliant Violet 421™","titlePadding":35,"labelPadding":18,"labelOffset":5,"labelFlush":false,"labelOverlap":false,"tickCount":1000,
"values":[25,30,35,40,45,50,55,60,65,70,72,73,74,75,76,77,78,80,85,90,95,100,105,110,115,120,126,152,169,179,187,194,201,207,212,218,244,259,270,279,286,292,297,301,305,331,347,358,366,373,379,384,389,393,419],
"labelExpr":"datum.value==25?'-10':(datum.value==126||datum.value==218||datum.value==305||datum.value==393)?'10':''",
"tickSize":{"condition":{"test":"datum.value==25||datum.value==126||datum.value==218||datum.value==305||datum.value==393||(datum.value>=72&&datum.value<=78)","value":11},"value":5},
"tickWidth":{"condition":{"test":"datum.value==25||datum.value==126||datum.value==218||datum.value==305||datum.value==393","value":3},"value":1.5}}},
"color":{"field":"d","type":"ordinal","legend":null,"scale":{"domain":[1,2,3,4,5,6],"range":["#0000ff","#00ccff","#2cf06a","#e8f500","#ff6a00","#f00000"]}}}},
{"data":{"values":[{"gate":127}]},"mark":{"type":"rule","color":"black","strokeWidth":3},"encoding":{"x":{"field":"gate","type":"quantitative"}}},
{"data":{"values":[{"gate":178}]},"mark":{"type":"rule","color":"black","strokeWidth":3},"encoding":{"y":{"field":"gate","type":"quantitative"}}},
{"data":{"name":"xExp"},"mark":{"type":"text","align":"left","dx":16,"dy":25,"baseline":"alphabetic"},"encoding":{"x":{"field":"v","type":"quantitative"},"y":{"datum":0},"text":{"field":"t"}}},
{"data":{"name":"yExp"},"mark":{"type":"text","align":"left","dx":-26,"baseline":"alphabetic"},"encoding":{"x":{"datum":0},"y":{"field":"v","type":"quantitative"},"text":{"field":"t"}}},
{"data":{"values":[{"v":75,"t":"0"}]},"mark":{"type":"text","align":"right","dx":-28,"baseline":"middle"},"encoding":{"x":{"datum":0},"y":{"field":"v","type":"quantitative"},"text":{"field":"t"}}}
]},
{"width":429,"height":429,"layer":[
{"data":{"name":"cd223"},"mark":{"type":"square","filled":true,"size":44,"opacity":1},
"encoding":{
"x":{"field":"x","type":"quantitative","scale":{"domain":[0,429],"nice":false,"zero":false},
"axis":{"title":"CD223 - PerCP-Cy5.5","titleX":208,"titlePadding":30,"labelPadding":16,"labelOffset":8,"labelFlush":false,"labelOverlap":false,"tickCount":1000,
"values":[14,36,39,42,46,49,52,55,58,61,64,65,66,67,68,69,70,71,72,75,78,81,84,87,90,93,96,100,127,145,159,168,176,182,187,192,199,231,247,257,267,274,281,286,291,295,324,341,352,361,368,374,379,384,388,418],
"labelExpr":"datum.value==68?'0':(datum.value==199||datum.value==295||datum.value==388)?'10':''",
"tickSize":{"condition":{"test":"datum.value==36||datum.value==100||datum.value==199||datum.value==295||datum.value==388||(datum.value>=64&&datum.value<=72)","value":10},"value":5},
"tickWidth":{"condition":{"test":"datum.value==36||datum.value==100||datum.value==199||datum.value==295||datum.value==388","value":3},"value":1.5}}},
"y":{"field":"y","type":"quantitative","scale":{"domain":[0,429],"nice":false,"zero":false},
"axis":{"title":"CD4 - Brilliant Violet 421™","titlePadding":35,"labelPadding":18,"labelOffset":5,"labelFlush":false,"labelOverlap":false,"tickCount":1000,
"values":[25,30,35,40,45,50,55,60,65,70,72,73,74,75,76,77,78,80,85,90,95,100,105,110,115,120,126,152,169,179,187,194,201,207,212,218,244,259,270,279,286,292,297,301,305,331,347,358,366,373,379,384,389,393,419],
"labelExpr":"datum.value==25?'-10':(datum.value==126||datum.value==218||datum.value==305||datum.value==393)?'10':''",
"tickSize":{"condition":{"test":"datum.value==25||datum.value==126||datum.value==218||datum.value==305||datum.value==393||(datum.value>=72&&datum.value<=78)","value":11},"value":5},
"tickWidth":{"condition":{"test":"datum.value==25||datum.value==126||datum.value==218||datum.value==305||datum.value==393","value":3},"value":1.5}}},
"color":{"field":"d","type":"ordinal","legend":null,"scale":{"domain":[1,2,3,4,5,6],"range":["#0000ff","#00ccff","#2cf06a","#f5f500","#ff4a10","#f00000"]}}}},
{"data":{"values":[{"gate":127}]},"mark":{"type":"rule","color":"black","strokeWidth":3},"encoding":{"x":{"field":"gate","type":"quantitative"}}},
{"data":{"values":[{"gate":178}]},"mark":{"type":"rule","color":"black","strokeWidth":3},"encoding":{"y":{"field":"gate","type":"quantitative"}}},
{"data":{"name":"xExp"},"mark":{"type":"text","align":"left","dx":16,"dy":25,"baseline":"alphabetic"},"encoding":{"x":{"field":"v","type":"quantitative"},"y":{"datum":0},"text":{"field":"t"}}},
{"data":{"name":"yExp"},"mark":{"type":"text","align":"left","dx":-26,"baseline":"alphabetic"},"encoding":{"x":{"datum":0},"y":{"field":"v","type":"quantitative"},"text":{"field":"t"}}},
{"data":{"values":[{"v":75,"t":"0"}]},"mark":{"type":"text","align":"right","dx":-28,"baseline":"middle"},"encoding":{"x":{"datum":0},"y":{"field":"v","type":"quantitative"},"text":{"field":"t"}}}
]}
]
}
